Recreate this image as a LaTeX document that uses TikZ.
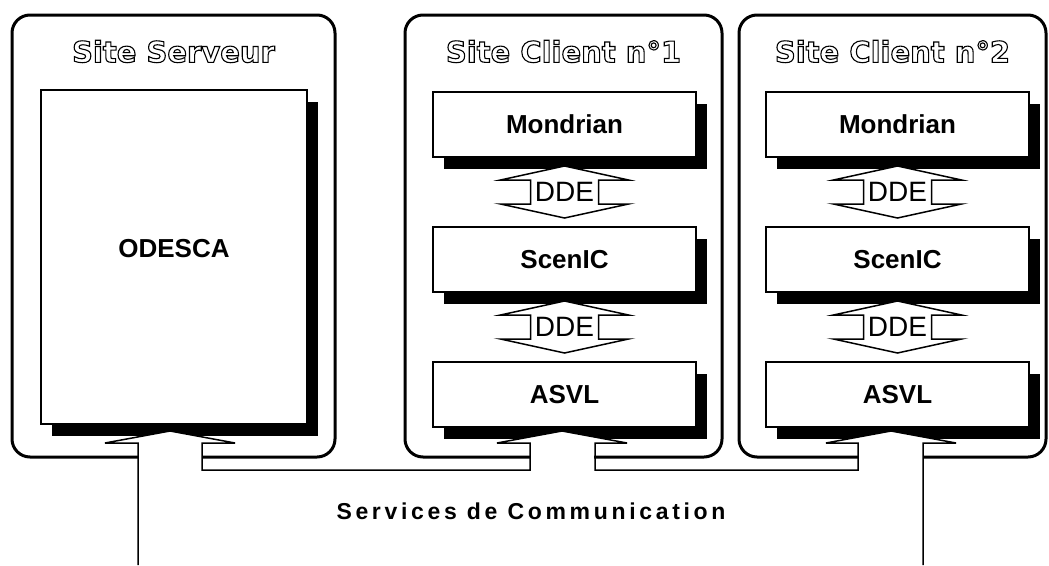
\documentclass[tikz,border=0pt]{standalone}
\usepackage{fontspec}
\setmainfont{Liberation Sans}
\newfontfamily\titlefont{DejaVu Sans Bold}
\newfontfamily\busfont[LetterSpace=16]{Liberation Sans}
\newcommand{\hollow}[1]{\special{pdf:literal q 1 Tr 1.1 w 0 G}#1\special{pdf:literal Q}}
\usetikzlibrary{positioning,shadows,calc}

\tikzset{
  site/.style={draw, line width=3pt, rounded corners=18pt, minimum height=442pt},
  sitetitle/.style={font=\titlefont\fontsize{29}{29}\selectfont},
  module/.style={draw, fill=white, line width=2pt, minimum width=263pt, minimum height=65pt,
    font=\bfseries\fontsize{26}{26}\selectfont,
    drop shadow={shadow xshift=11pt, shadow yshift=-12pt, fill=black, opacity=1}},
  ddetext/.style={font=\fontsize{28}{28}\selectfont, inner sep=0pt},
  bustext/.style={font=\busfont\bfseries\fontsize{23}{23}\selectfont},
  pipe/.style={draw, line width=1.5pt},
  ddearrow/.pic={
    \draw[pipe, fill=white] (0,-26) -- (64,-12) -- (34,-12) -- (34,12) -- (64,12) -- (0,26)
      -- (-64,12) -- (-34,12) -- (-34,-12) -- (-64,-12) -- cycle;
    \node[ddetext] (-txt) {DDE};
  }
}

\begin{document}
\begin{tikzpicture}[x=1pt,y=-1pt]
\useasboundingbox (0,0) rectangle (1049,565);
% sites
\node[site, minimum width=323pt] (srv) at (173.5,236) {};
\node[site, minimum width=317pt] (cli1) at (563.5,236) {};
\node[site, minimum width=307pt] (cli2) at (892.5,236) {};
\node[sitetitle] (srvtitle) at ([yshift=-38pt]srv.north) {\hollow{Site Serveur}};
\node[sitetitle] (cli1title) at ([yshift=-38pt]cli1.north) {\hollow{Site Client n°1}};
\node[sitetitle] (cli2title) at ([yshift=-38pt]cli2.north) {\hollow{Site Client n°2}};

% modules
\node[module, minimum width=266pt, minimum height=334pt, text depth=18pt] (odesca) at (174,257) {ODESCA};
\node[module] (mond1) at (564.5,124.5) {Mondrian};
\node[module, below=68pt of mond1] (scen1) {ScenIC};
\node[module, below=68pt of scen1] (asvl1) {ASVL};
\node[module] (mond2) at (897.5,124.5) {Mondrian};
\node[module, below=68pt of mond2] (scen2) {ScenIC};
\node[module, below=68pt of scen2] (asvl2) {ASVL};

% DDE links
\pic (dde1a) at ($(mond1.south)!0.5!(scen1.north)$) {ddearrow};
\pic (dde1b) at ($(scen1.south)!0.5!(asvl1.north)$) {ddearrow};
\pic (dde2a) at ($(mond2.south)!0.5!(scen2.north)$) {ddearrow};
\pic (dde2b) at ($(scen2.south)!0.5!(asvl2.north)$) {ddearrow};

% communication services
\foreach \c in {170,562,891} {
  \fill[white] (\c-65,443) -- (\c,431) -- (\c+65,443) -- cycle;
  \fill[white] (\c-32,440) rectangle (\c+32,469);
}
\coordinate (srvfoot) at (138,565);
\coordinate (clifoot) at (923,565);
\draw[pipe] (srvfoot) -- (138,443) -- (105,443) -- (170,431) -- (235,443) -- (202,443) -- (202,470)
  -- (530,470) -- (530,443) -- (497,443) -- (562,431) -- (627,443) -- (595,443) -- (595,470)
  -- (858,470) -- (858,443) -- (826,443) -- (891,431) -- (956,443) -- (923,443) -- (clifoot);
\node[bustext] (svc) at (531,511) {Services de Communication};
\end{tikzpicture}
\end{document}
